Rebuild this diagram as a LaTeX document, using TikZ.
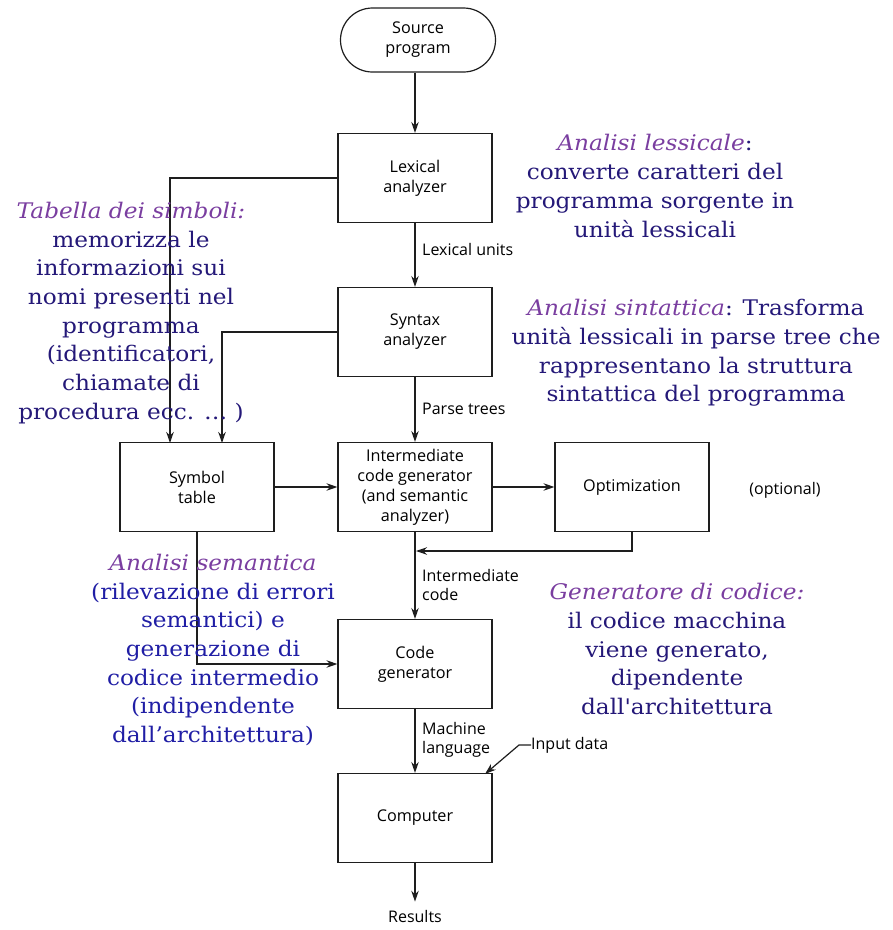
\documentclass[tikz,border=0pt]{standalone}
\usepackage{fontspec}
\setmainfont{DejaVu Serif}[Ligatures=TeXOff, FakeStretch=1.08]
\newfontfamily\boxfont{Open Sans}
\usetikzlibrary{arrows.meta,shapes.misc}
\definecolor{headc}{RGB}{122,62,160}
\definecolor{bodyc}{RGB}{36,24,120}
\definecolor{semc}{RGB}{32,30,165}
\definecolor{linec}{RGB}{30,30,30}
\tikzset{
  box/.style={draw=linec, line width=1.2pt, minimum width=154pt, minimum height=89pt, align=center, inner sep=0pt,
    font=\boxfont\fontsize{16.2}{20}\selectfont},
  stadium/.style={draw=linec, line width=1.2pt, rounded rectangle, minimum width=155pt, minimum height=64pt, align=center, inner sep=0pt,
    font=\boxfont\fontsize{16.2}{20}\selectfont},
  lbl/.style={inner sep=0pt, align=left, font=\boxfont\fontsize{16}{19.5}\selectfont},
  arr/.style={draw=linec, line width=1.2pt, -{Stealth[length=11pt,width=7.5pt]}},
  ann/.style={align=center, inner sep=0pt, text=bodyc, font=\fontsize{21.5}{28.7}\selectfont},
}
\begin{document}
\begin{tikzpicture}[x=1pt,y=-1pt]
\useasboundingbox (0,0) rectangle (893,930);
% boxes
\node[stadium] (src) at (418,40) {Source\\program};
\node[box] (lex) at (415,178) {Lexical\\analyzer};
\node[box] (syn) at (415,332) {Syntax\\analyzer};
\node[box] (icg) at (415,487) {Intermediate\\code generator\\(and semantic\\analyzer)};
\node[box] (sym) at (197,487) {Symbol\\table};
\node[box] (opt) at (632,487) {Optimization};
\node[box] (cg) at (415,664) {Code\\generator};
\node[box] (comp) at (415,818) {Computer};
% labels
\node[lbl, anchor=west] (lu) at (422,249) {Lexical units};
\node[lbl, anchor=west] (pt) at (422,409) {Parse trees};
\node[lbl, anchor=west] (ic) at (422,585) {Intermediate\\code};
\node[lbl, anchor=west] (ml) at (422,740) {Machine\\language};
\node[lbl, anchor=west] (inp) at (531,745) {Input data};
\node[lbl] (optl) at (785,490) {(optional)};
\node[lbl] (res) at (415,916) {Results};
% coordinates
\coordinate (s1) at (170,443);
\coordinate (s2) at (222,443);
\coordinate (fb) at (416,551);
\coordinate (cin) at (485,774);
% connectors
\draw[arr] (src.south -| lex.north) -- (lex);
\draw[arr] (lex) -- (syn);
\draw[arr] (syn) -- (icg);
\draw[arr] (icg) -- (cg);
\draw[arr] (cg) -- (comp);
\draw[arr, shorten >=8pt] (comp) -- (res);
\draw[arr] (sym) -- (icg);
\draw[arr] (icg) -- (opt);
\draw[arr] (lex.west) -| (s1);
\draw[arr] (syn.west) -| (s2);
\draw[arr] (opt.south) |- (fb);
\draw[arr] (sym.south) |- (cg.west);
\draw[arr] (inp.west) -- ++(-12,0) -- (cin);
% annotations
\node[ann] (a1) at (655,186) {{\color{headc}\itshape Analisi lessicale}:\\converte caratteri del\\programma sorgente in\\unità lessicali};
\node[ann] (a2) at (131,313) {{\color{headc}\itshape Tabella dei simboli:}\\memorizza le\\informazioni sui\\nomi presenti nel\\programma\\(identificatori,\\chiamate di\\procedura ecc. … )};
\node[ann] (a3) at (696,353) {{\color{headc}\itshape Analisi sintattica}: Trasforma\\unità lessicali in parse tree che\\rappresentano la struttura\\sintattica del programma};
\node[ann, text=semc] (a4) at (213,650) {{\color{headc}\itshape Analisi semantica}\\(rilevazione di errori\\semantici) e\\generazione di\\codice intermedio\\(indipendente\\dall’architettura)};
\node[ann] (a5) at (677,649) {{\color{headc}\itshape Generatore di codice:}\\il codice macchina\\viene generato,\\dipendente\\dall'architettura};
\end{tikzpicture}
\end{document}
